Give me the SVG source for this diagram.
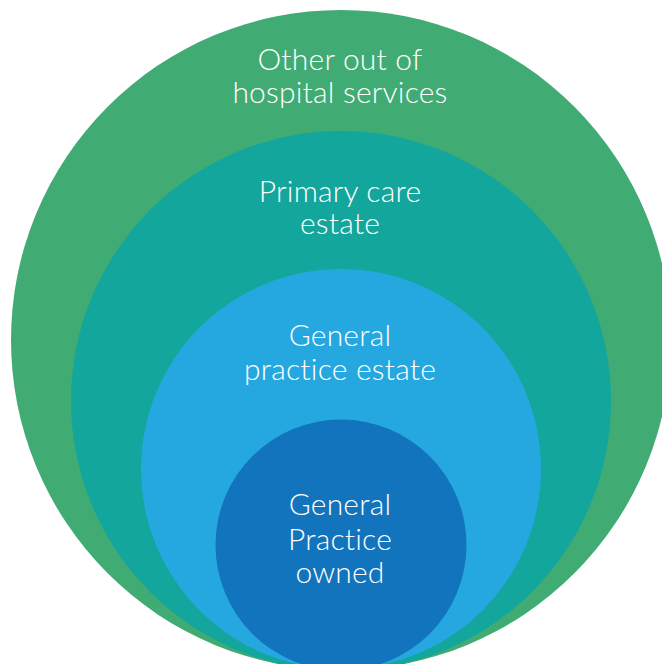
<svg xmlns="http://www.w3.org/2000/svg" width="662" height="664" viewBox="0 0 662 664">
<style>
text{font-family:Lato,"Open Sans","Liberation Sans",sans-serif;font-weight:300;font-size:30px;letter-spacing:0.2px;fill:#fff;text-anchor:middle}
</style>
<rect width="662" height="664" fill="#fff"/>
<g id="outer"><circle cx="341" cy="340" r="330" fill="#41AB74"/><text x="340" y="70">Other out of</text><text x="340" y="103">hospital services</text></g>
<g id="primary"><circle cx="341" cy="401" r="270" fill="#13A69C"/><text x="340" y="202">Primary care</text><text x="340" y="234">estate</text></g>
<g id="gp-estate"><circle cx="341" cy="469" r="200" fill="#25A8E0"/><text x="340" y="346">General</text><text x="340" y="380">practice estate</text></g>
<g id="gp-owned"><circle cx="341" cy="545" r="125.5" fill="#1174BC"/><text x="340" y="515">General</text><text x="340" y="550">Practice</text><text x="340" y="583">owned</text></g>
<g id="connectors"/>
</svg>
